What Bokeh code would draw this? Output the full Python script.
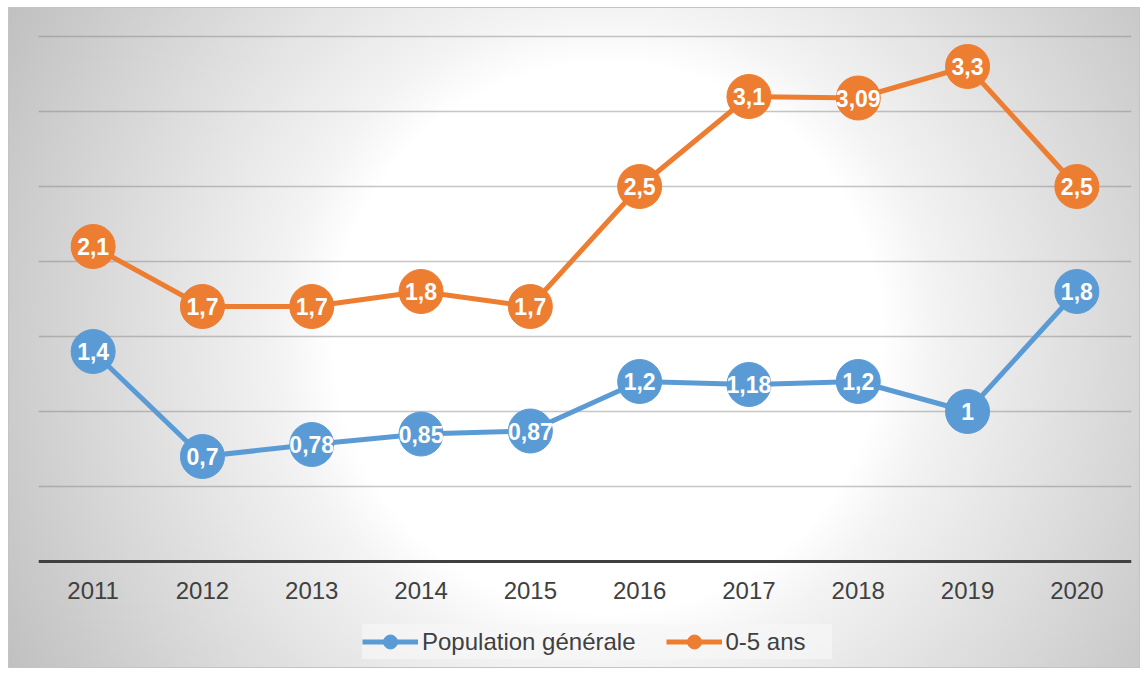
from bokeh.plotting import figure
from bokeh.models import FactorRange, Range1d, SingleIntervalTicker, Legend, LegendItem, ColumnDataSource
from bokeh.core.properties import value
from bokeh.embed import file_html
from bokeh.resources import INLINE

years = ["2011", "2012", "2013", "2014", "2015", "2016", "2017", "2018", "2019", "2020"]
pop_gen = [1.4, 0.7, 0.78, 0.85, 0.87, 1.2, 1.18, 1.2, 1.0, 1.8]
pop_gen_labels = ["1,4", "0,7", "0,78", "0,85", "0,87", "1,2", "1,18", "1,2", "1", "1,8"]
ans05 = [2.1, 1.7, 1.7, 1.8, 1.7, 2.5, 3.1, 3.09, 3.3, 2.5]
ans05_labels = ["2,1", "1,7", "1,7", "1,8", "1,7", "2,5", "3,1", "3,09", "3,3", "2,5"]
series_names = ["Population générale", "0-5 ans"]
colors = ["#5B9BD5", "#ED7D31"]

FONT = "Liberation Sans"

W, H = 1132, 661
TOP, BOTTOM = 13, 1
ZERO_Y = 554          # pixel row of value 0 inside the figure
PX_PER_UNIT = 150.0
y_end = (ZERO_Y - TOP) / PX_PER_UNIT
y_start = -((H - BOTTOM) - ZERO_Y) / PX_PER_UNIT

p = figure(width=W, height=H,
           x_range=FactorRange(factors=years, range_padding=0),
           y_range=Range1d(y_start, y_end),
           output_backend="svg", toolbar_location=None,
           min_border_left=30, min_border_right=9,
           min_border_top=TOP, min_border_bottom=BOTTOM)
p.margin = (7, 0, 0, 8)

p.background_fill_color = None
p.border_fill_color = None
p.outline_line_color = None
p.styles = {
    "background": "radial-gradient(circle farthest-corner at 53% 50%, #ffffff 0%, #ffffff 40%, #f3f3f3 48%, #c0c0c0 100%)",
    "box-shadow": "inset 0 0 0 1px #c4c4c4",
}

p.yaxis.visible = False
p.xgrid.visible = False
p.ygrid.ticker = SingleIntervalTicker(interval=0.5)
p.ygrid.bounds = (0.4, 3.6)
p.ygrid.grid_line_color = "#808080"
p.ygrid.grid_line_alpha = 0.45
p.ygrid.grid_line_width = 1.5

ax = p.xaxis[0]
ax.fixed_location = 0
ax.axis_line_color = "#404040"
ax.axis_line_width = 3
ax.major_tick_line_color = None
ax.minor_tick_line_color = None
ax.major_tick_out = 0
ax.major_tick_in = 0
ax.major_label_standoff = 20
ax.major_label_text_font = FONT
ax.major_label_text_font_size = "24px"
ax.major_label_text_color = "#404040"

items = []
for vals, labs, name, col in [(pop_gen, pop_gen_labels, series_names[0], colors[0]),
                              (ans05, ans05_labels, series_names[1], colors[1])]:
    src = ColumnDataSource(dict(x=years, y=vals, t=labs))
    r1 = p.line("x", "y", source=src, line_color=col, line_width=5, line_join="round")
    r2 = p.scatter("x", "y", source=src, size=44, fill_color=col, line_color=col)
    p.text("x", "y", text="t", source=src, text_align="center", text_baseline="middle",
           text_color="white", text_font=value(FONT), text_font_style="bold",
           text_font_size="23px")
    items.append(LegendItem(label=name, renderers=[r1, r2]))

legend = Legend(items=items, orientation="horizontal", location=(324, 8),
                label_text_font=FONT, label_text_font_size="24px", label_text_color="#404040",
                glyph_width=56, glyph_height=35, label_standoff=4, spacing=30,
                label_width=106, padding=4, margin=0,
                background_fill_color="#f7f7f7", background_fill_alpha=0.7,
                border_line_color=None)
p.add_layout(legend, "center")

open("out.html", "w").write(file_html(p, INLINE))
